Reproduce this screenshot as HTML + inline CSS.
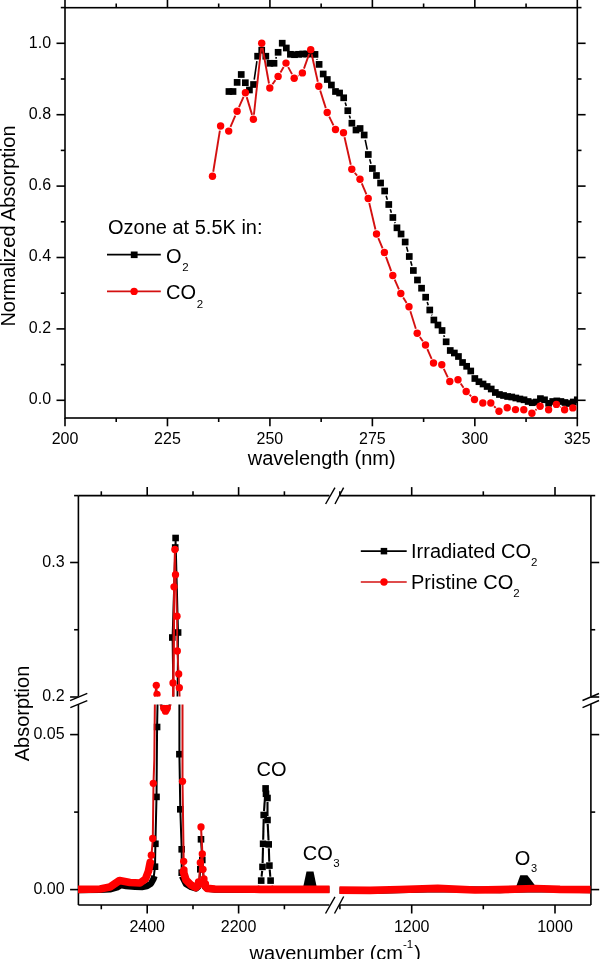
<!DOCTYPE html>
<html><head><meta charset="utf-8"><style>
html,body{margin:0;padding:0;background:#fff;width:600px;height:959px;overflow:hidden}
svg{display:block}
text{font-family:"Liberation Sans",sans-serif;fill:#000}
svg{will-change:transform}
</style></head><body>
<svg width="600" height="959" viewBox="0 0 600 959">
<rect x="65.0" y="7.7" width="512.3" height="410.3" fill="none" stroke="#000" stroke-width="1.6"/>
<line x1="65.0" y1="418.0" x2="65.0" y2="426.3" stroke="#000000" stroke-width="1.6" />
<line x1="65.0" y1="7.7" x2="65.0" y2="-0.6000000000000005" stroke="#000000" stroke-width="1.6" />
<text x="65.0" y="444" font-size="16" text-anchor="middle" >200</text>
<line x1="167.45999999999998" y1="418.0" x2="167.45999999999998" y2="426.3" stroke="#000000" stroke-width="1.6" />
<line x1="167.45999999999998" y1="7.7" x2="167.45999999999998" y2="-0.6000000000000005" stroke="#000000" stroke-width="1.6" />
<text x="167.45999999999998" y="444" font-size="16" text-anchor="middle" >225</text>
<line x1="269.91999999999996" y1="418.0" x2="269.91999999999996" y2="426.3" stroke="#000000" stroke-width="1.6" />
<line x1="269.91999999999996" y1="7.7" x2="269.91999999999996" y2="-0.6000000000000005" stroke="#000000" stroke-width="1.6" />
<text x="269.91999999999996" y="444" font-size="16" text-anchor="middle" >250</text>
<line x1="372.38" y1="418.0" x2="372.38" y2="426.3" stroke="#000000" stroke-width="1.6" />
<line x1="372.38" y1="7.7" x2="372.38" y2="-0.6000000000000005" stroke="#000000" stroke-width="1.6" />
<text x="372.38" y="444" font-size="16" text-anchor="middle" >275</text>
<line x1="474.84" y1="418.0" x2="474.84" y2="426.3" stroke="#000000" stroke-width="1.6" />
<line x1="474.84" y1="7.7" x2="474.84" y2="-0.6000000000000005" stroke="#000000" stroke-width="1.6" />
<text x="474.84" y="444" font-size="16" text-anchor="middle" >300</text>
<line x1="577.3" y1="418.0" x2="577.3" y2="426.3" stroke="#000000" stroke-width="1.6" />
<line x1="577.3" y1="7.7" x2="577.3" y2="-0.6000000000000005" stroke="#000000" stroke-width="1.6" />
<text x="577.3" y="444" font-size="16" text-anchor="middle" >325</text>
<line x1="116.22999999999999" y1="418.0" x2="116.22999999999999" y2="422.0" stroke="#000000" stroke-width="1.6" />
<line x1="116.22999999999999" y1="7.7" x2="116.22999999999999" y2="3.5" stroke="#000000" stroke-width="1.6" />
<line x1="218.69" y1="418.0" x2="218.69" y2="422.0" stroke="#000000" stroke-width="1.6" />
<line x1="218.69" y1="7.7" x2="218.69" y2="3.5" stroke="#000000" stroke-width="1.6" />
<line x1="321.15" y1="418.0" x2="321.15" y2="422.0" stroke="#000000" stroke-width="1.6" />
<line x1="321.15" y1="7.7" x2="321.15" y2="3.5" stroke="#000000" stroke-width="1.6" />
<line x1="423.60999999999996" y1="418.0" x2="423.60999999999996" y2="422.0" stroke="#000000" stroke-width="1.6" />
<line x1="423.60999999999996" y1="7.7" x2="423.60999999999996" y2="3.5" stroke="#000000" stroke-width="1.6" />
<line x1="526.0699999999999" y1="418.0" x2="526.0699999999999" y2="422.0" stroke="#000000" stroke-width="1.6" />
<line x1="526.0699999999999" y1="7.7" x2="526.0699999999999" y2="3.5" stroke="#000000" stroke-width="1.6" />
<line x1="56.5" y1="400.3" x2="65.0" y2="400.3" stroke="#000000" stroke-width="1.6" />
<line x1="577.3" y1="400.3" x2="585.5999999999999" y2="400.3" stroke="#000000" stroke-width="1.6" />
<text x="51.1" y="403.6" font-size="16" text-anchor="end" >0.0</text>
<line x1="56.5" y1="328.9" x2="65.0" y2="328.9" stroke="#000000" stroke-width="1.6" />
<line x1="577.3" y1="328.9" x2="585.5999999999999" y2="328.9" stroke="#000000" stroke-width="1.6" />
<text x="51.1" y="333.2" font-size="16" text-anchor="end" >0.2</text>
<line x1="56.5" y1="257.5" x2="65.0" y2="257.5" stroke="#000000" stroke-width="1.6" />
<line x1="577.3" y1="257.5" x2="585.5999999999999" y2="257.5" stroke="#000000" stroke-width="1.6" />
<text x="51.1" y="260.8" font-size="16" text-anchor="end" >0.4</text>
<line x1="56.5" y1="186.1" x2="65.0" y2="186.1" stroke="#000000" stroke-width="1.6" />
<line x1="577.3" y1="186.1" x2="585.5999999999999" y2="186.1" stroke="#000000" stroke-width="1.6" />
<text x="51.1" y="190.4" font-size="16" text-anchor="end" >0.6</text>
<line x1="56.5" y1="114.69999999999999" x2="65.0" y2="114.69999999999999" stroke="#000000" stroke-width="1.6" />
<line x1="577.3" y1="114.69999999999999" x2="585.5999999999999" y2="114.69999999999999" stroke="#000000" stroke-width="1.6" />
<text x="51.1" y="118.99999999999999" font-size="16" text-anchor="end" >0.8</text>
<line x1="56.5" y1="43.30000000000001" x2="65.0" y2="43.30000000000001" stroke="#000000" stroke-width="1.6" />
<line x1="577.3" y1="43.30000000000001" x2="585.5999999999999" y2="43.30000000000001" stroke="#000000" stroke-width="1.6" />
<text x="51.1" y="47.60000000000001" font-size="16" text-anchor="end" >1.0</text>
<line x1="60.8" y1="364.6" x2="65.0" y2="364.6" stroke="#000000" stroke-width="1.6" />
<line x1="577.3" y1="364.6" x2="581.5" y2="364.6" stroke="#000000" stroke-width="1.6" />
<line x1="60.8" y1="293.2" x2="65.0" y2="293.2" stroke="#000000" stroke-width="1.6" />
<line x1="577.3" y1="293.2" x2="581.5" y2="293.2" stroke="#000000" stroke-width="1.6" />
<line x1="60.8" y1="221.8" x2="65.0" y2="221.8" stroke="#000000" stroke-width="1.6" />
<line x1="577.3" y1="221.8" x2="581.5" y2="221.8" stroke="#000000" stroke-width="1.6" />
<line x1="60.8" y1="150.39999999999998" x2="65.0" y2="150.39999999999998" stroke="#000000" stroke-width="1.6" />
<line x1="577.3" y1="150.39999999999998" x2="581.5" y2="150.39999999999998" stroke="#000000" stroke-width="1.6" />
<line x1="60.8" y1="79.0" x2="65.0" y2="79.0" stroke="#000000" stroke-width="1.6" />
<line x1="577.3" y1="79.0" x2="581.5" y2="79.0" stroke="#000000" stroke-width="1.6" />
<line x1="60.8" y1="7.599999999999966" x2="65.0" y2="7.599999999999966" stroke="#000000" stroke-width="1.6" />
<line x1="577.3" y1="7.599999999999966" x2="581.5" y2="7.599999999999966" stroke="#000000" stroke-width="1.6" />
<text x="321.7" y="464.5" font-size="20" text-anchor="middle" >wavelength (nm)</text>
<text x="0" y="0" font-size="20" text-anchor="middle" transform="translate(14.9,226) rotate(-90)">Normalized Absorption</text>
<defs><clipPath id="ct"><rect x="65" y="7.7" width="512.3" height="410.3"/></clipPath></defs><g clip-path="url(#ct)">
<line x1="254.24" y1="79.55" x2="256.91" y2="61.15" stroke="#000000" stroke-width="1.6"/>
<line x1="275.76" y1="58.61" x2="276.37" y2="56.99" stroke="#000000" stroke-width="1.6"/>
<line x1="316.90" y1="59.03" x2="317.20" y2="59.77" stroke="#000000" stroke-width="1.6"/>
<line x1="345.21" y1="102.57" x2="346.28" y2="105.93" stroke="#000000" stroke-width="1.6"/>
<line x1="349.35" y1="115.45" x2="350.33" y2="118.45" stroke="#000000" stroke-width="1.6"/>
<line x1="365.21" y1="139.89" x2="367.25" y2="149.61" stroke="#000000" stroke-width="1.6"/>
<line x1="369.69" y1="159.30" x2="370.98" y2="163.70" stroke="#000000" stroke-width="1.6"/>
<line x1="386.13" y1="195.78" x2="387.32" y2="199.72" stroke="#000000" stroke-width="1.6"/>
<line x1="390.28" y1="209.27" x2="391.37" y2="212.73" stroke="#000000" stroke-width="1.6"/>
<line x1="394.72" y1="222.15" x2="395.12" y2="223.15" stroke="#000000" stroke-width="1.6"/>
<line x1="406.53" y1="246.81" x2="407.91" y2="251.69" stroke="#000000" stroke-width="1.6"/>
<line x1="410.67" y1="261.30" x2="411.96" y2="265.70" stroke="#000000" stroke-width="1.6"/>
<line x1="427.18" y1="301.96" x2="428.23" y2="305.24" stroke="#000000" stroke-width="1.6"/>
<line x1="431.65" y1="314.63" x2="431.96" y2="315.37" stroke="#000000" stroke-width="1.6"/>
<line x1="443.76" y1="335.20" x2="444.45" y2="337.10" stroke="#000000" stroke-width="1.6"/>
<rect x="225.59" y="88.15" width="6.7" height="6.7" fill="#000"/>
<rect x="229.68" y="88.15" width="6.7" height="6.7" fill="#000"/>
<rect x="233.78" y="79.05" width="6.7" height="6.7" fill="#000"/>
<rect x="237.88" y="71.15" width="6.7" height="6.7" fill="#000"/>
<rect x="241.98" y="79.35" width="6.7" height="6.7" fill="#000"/>
<rect x="246.08" y="86.65" width="6.7" height="6.7" fill="#000"/>
<rect x="250.18" y="81.15" width="6.7" height="6.7" fill="#000"/>
<rect x="254.27" y="52.85" width="6.7" height="6.7" fill="#000"/>
<rect x="258.37" y="46.85" width="6.7" height="6.7" fill="#000"/>
<rect x="262.47" y="52.85" width="6.7" height="6.7" fill="#000"/>
<rect x="266.57" y="59.95" width="6.7" height="6.7" fill="#000"/>
<rect x="270.67" y="59.95" width="6.7" height="6.7" fill="#000"/>
<rect x="274.77" y="48.95" width="6.7" height="6.7" fill="#000"/>
<rect x="278.87" y="39.85" width="6.7" height="6.7" fill="#000"/>
<rect x="282.96" y="44.65" width="6.7" height="6.7" fill="#000"/>
<rect x="287.06" y="50.95" width="6.7" height="6.7" fill="#000"/>
<rect x="291.16" y="51.35" width="6.7" height="6.7" fill="#000"/>
<rect x="295.26" y="50.95" width="6.7" height="6.7" fill="#000"/>
<rect x="299.36" y="50.65" width="6.7" height="6.7" fill="#000"/>
<rect x="303.46" y="50.65" width="6.7" height="6.7" fill="#000"/>
<rect x="307.55" y="50.65" width="6.7" height="6.7" fill="#000"/>
<rect x="311.65" y="51.05" width="6.7" height="6.7" fill="#000"/>
<rect x="315.75" y="61.05" width="6.7" height="6.7" fill="#000"/>
<rect x="319.85" y="70.65" width="6.7" height="6.7" fill="#000"/>
<rect x="323.95" y="76.15" width="6.7" height="6.7" fill="#000"/>
<rect x="328.05" y="81.65" width="6.7" height="6.7" fill="#000"/>
<rect x="332.14" y="88.15" width="6.7" height="6.7" fill="#000"/>
<rect x="336.24" y="89.65" width="6.7" height="6.7" fill="#000"/>
<rect x="340.34" y="94.45" width="6.7" height="6.7" fill="#000"/>
<rect x="344.44" y="107.35" width="6.7" height="6.7" fill="#000"/>
<rect x="348.54" y="119.85" width="6.7" height="6.7" fill="#000"/>
<rect x="352.64" y="126.65" width="6.7" height="6.7" fill="#000"/>
<rect x="356.73" y="125.15" width="6.7" height="6.7" fill="#000"/>
<rect x="360.83" y="131.65" width="6.7" height="6.7" fill="#000"/>
<rect x="364.93" y="151.15" width="6.7" height="6.7" fill="#000"/>
<rect x="369.03" y="165.15" width="6.7" height="6.7" fill="#000"/>
<rect x="373.13" y="172.15" width="6.7" height="6.7" fill="#000"/>
<rect x="377.23" y="179.65" width="6.7" height="6.7" fill="#000"/>
<rect x="381.33" y="187.65" width="6.7" height="6.7" fill="#000"/>
<rect x="385.42" y="201.15" width="6.7" height="6.7" fill="#000"/>
<rect x="389.52" y="214.15" width="6.7" height="6.7" fill="#000"/>
<rect x="393.62" y="224.45" width="6.7" height="6.7" fill="#000"/>
<rect x="397.72" y="230.65" width="6.7" height="6.7" fill="#000"/>
<rect x="401.82" y="238.65" width="6.7" height="6.7" fill="#000"/>
<rect x="405.92" y="253.15" width="6.7" height="6.7" fill="#000"/>
<rect x="410.01" y="267.15" width="6.7" height="6.7" fill="#000"/>
<rect x="414.11" y="276.65" width="6.7" height="6.7" fill="#000"/>
<rect x="418.21" y="284.85" width="6.7" height="6.7" fill="#000"/>
<rect x="422.31" y="293.85" width="6.7" height="6.7" fill="#000"/>
<rect x="426.41" y="306.65" width="6.7" height="6.7" fill="#000"/>
<rect x="430.51" y="316.65" width="6.7" height="6.7" fill="#000"/>
<rect x="434.60" y="321.65" width="6.7" height="6.7" fill="#000"/>
<rect x="438.70" y="327.15" width="6.7" height="6.7" fill="#000"/>
<rect x="442.80" y="338.45" width="6.7" height="6.7" fill="#000"/>
<rect x="446.90" y="347.15" width="6.7" height="6.7" fill="#000"/>
<rect x="451.00" y="349.65" width="6.7" height="6.7" fill="#000"/>
<rect x="455.10" y="353.15" width="6.7" height="6.7" fill="#000"/>
<rect x="459.19" y="359.15" width="6.7" height="6.7" fill="#000"/>
<rect x="463.29" y="362.95" width="6.7" height="6.7" fill="#000"/>
<rect x="467.39" y="367.65" width="6.7" height="6.7" fill="#000"/>
<rect x="471.49" y="375.15" width="6.7" height="6.7" fill="#000"/>
<rect x="475.59" y="378.35" width="6.7" height="6.7" fill="#000"/>
<rect x="479.69" y="380.65" width="6.7" height="6.7" fill="#000"/>
<rect x="483.79" y="383.15" width="6.7" height="6.7" fill="#000"/>
<rect x="487.88" y="385.65" width="6.7" height="6.7" fill="#000"/>
<rect x="491.98" y="389.15" width="6.7" height="6.7" fill="#000"/>
<rect x="496.08" y="391.15" width="6.7" height="6.7" fill="#000"/>
<rect x="500.18" y="392.15" width="6.7" height="6.7" fill="#000"/>
<rect x="504.28" y="393.15" width="6.7" height="6.7" fill="#000"/>
<rect x="508.38" y="393.65" width="6.7" height="6.7" fill="#000"/>
<rect x="512.47" y="394.65" width="6.7" height="6.7" fill="#000"/>
<rect x="516.57" y="395.65" width="6.7" height="6.7" fill="#000"/>
<rect x="520.67" y="396.45" width="6.7" height="6.7" fill="#000"/>
<rect x="524.77" y="398.15" width="6.7" height="6.7" fill="#000"/>
<rect x="528.87" y="399.35" width="6.7" height="6.7" fill="#000"/>
<rect x="532.97" y="398.65" width="6.7" height="6.7" fill="#000"/>
<rect x="537.06" y="395.25" width="6.7" height="6.7" fill="#000"/>
<rect x="541.16" y="396.45" width="6.7" height="6.7" fill="#000"/>
<rect x="545.26" y="399.95" width="6.7" height="6.7" fill="#000"/>
<rect x="549.36" y="398.15" width="6.7" height="6.7" fill="#000"/>
<rect x="553.46" y="397.55" width="6.7" height="6.7" fill="#000"/>
<rect x="557.56" y="398.15" width="6.7" height="6.7" fill="#000"/>
<rect x="561.65" y="399.15" width="6.7" height="6.7" fill="#000"/>
<rect x="565.75" y="400.15" width="6.7" height="6.7" fill="#000"/>
<rect x="569.85" y="398.65" width="6.7" height="6.7" fill="#000"/>
<rect x="573.95" y="396.45" width="6.7" height="6.7" fill="#000"/>
<line x1="213.23" y1="171.76" x2="219.87" y2="130.54" stroke="#d41010" stroke-width="1.9"/>
<line x1="230.50" y1="126.87" x2="235.30" y2="115.53" stroke="#d41010" stroke-width="1.9"/>
<line x1="238.97" y1="107.10" x2="243.53" y2="96.90" stroke="#d41010" stroke-width="1.9"/>
<line x1="246.72" y1="97.11" x2="252.08" y2="114.89" stroke="#d41010" stroke-width="1.9"/>
<line x1="253.90" y1="114.73" x2="261.20" y2="47.77" stroke="#d41010" stroke-width="1.9"/>
<line x1="262.52" y1="47.73" x2="268.98" y2="83.47" stroke="#d41010" stroke-width="1.9"/>
<line x1="272.48" y1="84.26" x2="275.42" y2="80.14" stroke="#d41010" stroke-width="1.9"/>
<line x1="280.45" y1="72.45" x2="283.65" y2="67.05" stroke="#d41010" stroke-width="1.9"/>
<line x1="288.20" y1="67.14" x2="292.00" y2="74.16" stroke="#d41010" stroke-width="1.9"/>
<line x1="298.06" y1="75.70" x2="298.54" y2="75.40" stroke="#d41010" stroke-width="1.9"/>
<line x1="303.95" y1="68.57" x2="309.15" y2="54.03" stroke="#d41010" stroke-width="1.9"/>
<line x1="311.70" y1="54.19" x2="317.80" y2="81.71" stroke="#d41010" stroke-width="1.9"/>
<line x1="320.20" y1="90.58" x2="325.80" y2="108.12" stroke="#d41010" stroke-width="1.9"/>
<line x1="329.22" y1="116.63" x2="333.48" y2="125.37" stroke="#d41010" stroke-width="1.9"/>
<line x1="344.52" y1="137.19" x2="350.78" y2="164.71" stroke="#d41010" stroke-width="1.9"/>
<line x1="354.72" y1="172.76" x2="357.08" y2="175.64" stroke="#d41010" stroke-width="1.9"/>
<line x1="361.80" y1="183.43" x2="366.40" y2="194.27" stroke="#d41010" stroke-width="1.9"/>
<line x1="369.25" y1="202.98" x2="375.45" y2="229.52" stroke="#d41010" stroke-width="1.9"/>
<line x1="378.31" y1="238.23" x2="382.59" y2="248.27" stroke="#d41010" stroke-width="1.9"/>
<line x1="385.98" y1="256.82" x2="391.22" y2="271.18" stroke="#d41010" stroke-width="1.9"/>
<line x1="394.67" y1="279.70" x2="398.93" y2="289.30" stroke="#d41010" stroke-width="1.9"/>
<line x1="403.21" y1="297.42" x2="406.59" y2="302.88" stroke="#d41010" stroke-width="1.9"/>
<line x1="410.36" y1="311.19" x2="415.84" y2="328.81" stroke="#d41010" stroke-width="1.9"/>
<line x1="419.85" y1="336.96" x2="422.85" y2="341.24" stroke="#d41010" stroke-width="1.9"/>
<line x1="427.37" y1="349.20" x2="431.63" y2="358.80" stroke="#d41010" stroke-width="1.9"/>
<line x1="443.79" y1="368.95" x2="447.81" y2="377.35" stroke="#d41010" stroke-width="1.9"/>
<line x1="460.64" y1="383.57" x2="463.56" y2="387.73" stroke="#d41010" stroke-width="1.9"/>
<line x1="469.51" y1="394.69" x2="471.19" y2="396.31" stroke="#d41010" stroke-width="1.9"/>
<line x1="494.05" y1="406.25" x2="495.75" y2="407.95" stroke="#d41010" stroke-width="1.9"/>
<line x1="535.40" y1="410.21" x2="536.60" y2="409.19" stroke="#d41010" stroke-width="1.9"/>
<line x1="560.26" y1="406.90" x2="560.74" y2="407.20" stroke="#d41010" stroke-width="1.9"/>
<circle cx="212.5" cy="176.3" r="3.7" fill="#ff0000"/>
<circle cx="220.6" cy="126" r="3.7" fill="#ff0000"/>
<circle cx="228.7" cy="131.1" r="3.7" fill="#ff0000"/>
<circle cx="237.1" cy="111.3" r="3.7" fill="#ff0000"/>
<circle cx="245.4" cy="92.7" r="3.7" fill="#ff0000"/>
<circle cx="253.4" cy="119.3" r="3.7" fill="#ff0000"/>
<circle cx="261.7" cy="43.2" r="3.7" fill="#ff0000"/>
<circle cx="269.8" cy="88" r="3.7" fill="#ff0000"/>
<circle cx="278.1" cy="76.4" r="3.7" fill="#ff0000"/>
<circle cx="286" cy="63.1" r="3.7" fill="#ff0000"/>
<circle cx="294.2" cy="78.2" r="3.7" fill="#ff0000"/>
<circle cx="302.4" cy="72.9" r="3.7" fill="#ff0000"/>
<circle cx="310.7" cy="49.7" r="3.7" fill="#ff0000"/>
<circle cx="318.8" cy="86.2" r="3.7" fill="#ff0000"/>
<circle cx="327.2" cy="112.5" r="3.7" fill="#ff0000"/>
<circle cx="335.5" cy="129.5" r="3.7" fill="#ff0000"/>
<circle cx="343.5" cy="132.7" r="3.7" fill="#ff0000"/>
<circle cx="351.8" cy="169.2" r="3.7" fill="#ff0000"/>
<circle cx="360" cy="179.2" r="3.7" fill="#ff0000"/>
<circle cx="368.2" cy="198.5" r="3.7" fill="#ff0000"/>
<circle cx="376.5" cy="234" r="3.7" fill="#ff0000"/>
<circle cx="384.4" cy="252.5" r="3.7" fill="#ff0000"/>
<circle cx="392.8" cy="275.5" r="3.7" fill="#ff0000"/>
<circle cx="400.8" cy="293.5" r="3.7" fill="#ff0000"/>
<circle cx="409" cy="306.8" r="3.7" fill="#ff0000"/>
<circle cx="417.2" cy="333.2" r="3.7" fill="#ff0000"/>
<circle cx="425.5" cy="345" r="3.7" fill="#ff0000"/>
<circle cx="433.5" cy="363" r="3.7" fill="#ff0000"/>
<circle cx="441.8" cy="364.8" r="3.7" fill="#ff0000"/>
<circle cx="449.8" cy="381.5" r="3.7" fill="#ff0000"/>
<circle cx="458" cy="379.8" r="3.7" fill="#ff0000"/>
<circle cx="466.2" cy="391.5" r="3.7" fill="#ff0000"/>
<circle cx="474.5" cy="399.5" r="3.7" fill="#ff0000"/>
<circle cx="482.8" cy="403" r="3.7" fill="#ff0000"/>
<circle cx="490.8" cy="403" r="3.7" fill="#ff0000"/>
<circle cx="499" cy="411.2" r="3.7" fill="#ff0000"/>
<circle cx="507.2" cy="407.8" r="3.7" fill="#ff0000"/>
<circle cx="515.5" cy="409.6" r="3.7" fill="#ff0000"/>
<circle cx="523.8" cy="409.7" r="3.7" fill="#ff0000"/>
<circle cx="531.9" cy="413.2" r="3.7" fill="#ff0000"/>
<circle cx="540.1" cy="406.2" r="3.7" fill="#ff0000"/>
<circle cx="548.6" cy="409.7" r="3.7" fill="#ff0000"/>
<circle cx="556.4" cy="404.4" r="3.7" fill="#ff0000"/>
<circle cx="564.6" cy="409.7" r="3.7" fill="#ff0000"/>
<circle cx="572.8" cy="407.9" r="3.7" fill="#ff0000"/>
</g>
<text x="108" y="234.0" font-size="20" text-anchor="start" >Ozone at 5.5K in:</text>
<line x1="107" y1="254.7" x2="160.8" y2="254.7" stroke="#000000" stroke-width="1.7" />
<rect x="130.8" y="251.5" width="6.8" height="6.6" fill="#000"/>
<text x="166" y="262.5" font-size="20" text-anchor="start" >O<tspan font-size="11.5" dx="0.8" dy="8.5">2</tspan></text>
<line x1="107" y1="291.3" x2="160.8" y2="291.3" stroke="#d41010" stroke-width="1.7" />
<circle cx="134.1" cy="291.4" r="3.7" fill="#ff0000"/>
<text x="166" y="299" font-size="20" text-anchor="start" >CO<tspan font-size="11.5" dx="0.8" dy="8.5">2</tspan></text>
<line x1="78.4" y1="495.6" x2="329.5" y2="495.6" stroke="#000000" stroke-width="1.6" />
<line x1="340.0" y1="495.6" x2="590.9" y2="495.6" stroke="#000000" stroke-width="1.6" />
<line x1="78.4" y1="905.0" x2="329.5" y2="905.0" stroke="#000000" stroke-width="1.6" />
<line x1="340.0" y1="905.0" x2="590.9" y2="905.0" stroke="#000000" stroke-width="1.6" />
<line x1="78.4" y1="495.6" x2="78.4" y2="696.5" stroke="#000000" stroke-width="1.6" />
<line x1="78.4" y1="704.2" x2="78.4" y2="905.0" stroke="#000000" stroke-width="1.6" />
<line x1="590.9" y1="495.6" x2="590.9" y2="696.5" stroke="#000000" stroke-width="1.6" />
<line x1="590.9" y1="704.2" x2="590.9" y2="905.0" stroke="#000000" stroke-width="1.6" />
<line x1="70.1" y1="700.6" x2="87.3" y2="693.3" stroke="#000000" stroke-width="1.4" />
<line x1="70.3" y1="707.6" x2="87.3" y2="700.6" stroke="#000000" stroke-width="1.4" />
<line x1="582.5" y1="700.5" x2="599" y2="693.5" stroke="#000000" stroke-width="1.4" />
<line x1="582.5" y1="707.6" x2="599" y2="700.5" stroke="#000000" stroke-width="1.4" />
<line x1="325.5" y1="913.5" x2="335" y2="896.8" stroke="#000000" stroke-width="1.4" />
<line x1="334.5" y1="913.5" x2="343.7" y2="896.5" stroke="#000000" stroke-width="1.4" />
<line x1="325.6" y1="504" x2="335" y2="487.6" stroke="#000000" stroke-width="1.4" />
<line x1="335" y1="504" x2="343.6" y2="487.6" stroke="#000000" stroke-width="1.4" />
<line x1="147.2" y1="905.0" x2="147.2" y2="913.5" stroke="#000000" stroke-width="1.6" />
<line x1="147.2" y1="495.6" x2="147.2" y2="487.1" stroke="#000000" stroke-width="1.6" />
<text x="147.2" y="931.5" font-size="16" text-anchor="middle" >2400</text>
<line x1="238.6" y1="905.0" x2="238.6" y2="913.5" stroke="#000000" stroke-width="1.6" />
<line x1="238.6" y1="495.6" x2="238.6" y2="487.1" stroke="#000000" stroke-width="1.6" />
<text x="238.6" y="931.5" font-size="16" text-anchor="middle" >2200</text>
<line x1="411.7" y1="905.0" x2="411.7" y2="913.5" stroke="#000000" stroke-width="1.6" />
<line x1="411.7" y1="495.6" x2="411.7" y2="487.1" stroke="#000000" stroke-width="1.6" />
<text x="411.7" y="931.5" font-size="16" text-anchor="middle" >1200</text>
<line x1="555.0" y1="905.0" x2="555.0" y2="913.5" stroke="#000000" stroke-width="1.6" />
<line x1="555.0" y1="495.6" x2="555.0" y2="487.1" stroke="#000000" stroke-width="1.6" />
<text x="555.0" y="931.5" font-size="16" text-anchor="middle" >1000</text>
<line x1="101.3" y1="905.0" x2="101.3" y2="909.3" stroke="#000000" stroke-width="1.6" />
<line x1="101.3" y1="495.6" x2="101.3" y2="491.3" stroke="#000000" stroke-width="1.6" />
<line x1="193.0" y1="905.0" x2="193.0" y2="909.3" stroke="#000000" stroke-width="1.6" />
<line x1="193.0" y1="495.6" x2="193.0" y2="491.3" stroke="#000000" stroke-width="1.6" />
<line x1="284.4" y1="905.0" x2="284.4" y2="909.3" stroke="#000000" stroke-width="1.6" />
<line x1="284.4" y1="495.6" x2="284.4" y2="491.3" stroke="#000000" stroke-width="1.6" />
<line x1="339.9" y1="905.0" x2="339.9" y2="909.3" stroke="#000000" stroke-width="1.6" />
<line x1="339.9" y1="495.6" x2="339.9" y2="491.3" stroke="#000000" stroke-width="1.6" />
<line x1="483.3" y1="905.0" x2="483.3" y2="909.3" stroke="#000000" stroke-width="1.6" />
<line x1="483.3" y1="495.6" x2="483.3" y2="491.3" stroke="#000000" stroke-width="1.6" />
<line x1="70.10000000000001" y1="889.6" x2="78.4" y2="889.6" stroke="#000000" stroke-width="1.6" />
<line x1="590.9" y1="889.6" x2="599.1999999999999" y2="889.6" stroke="#000000" stroke-width="1.6" />
<text x="64.6" y="893.5" font-size="16" text-anchor="end" >0.00</text>
<line x1="70.10000000000001" y1="734.6" x2="78.4" y2="734.6" stroke="#000000" stroke-width="1.6" />
<line x1="590.9" y1="734.6" x2="599.1999999999999" y2="734.6" stroke="#000000" stroke-width="1.6" />
<text x="64.6" y="738.5" font-size="16" text-anchor="end" >0.05</text>
<line x1="70.10000000000001" y1="697.0" x2="78.4" y2="697.0" stroke="#000000" stroke-width="1.6" />
<line x1="590.9" y1="697.0" x2="599.1999999999999" y2="697.0" stroke="#000000" stroke-width="1.6" />
<text x="64.6" y="700.9" font-size="16" text-anchor="end" >0.2</text>
<line x1="70.10000000000001" y1="562.5" x2="78.4" y2="562.5" stroke="#000000" stroke-width="1.6" />
<line x1="590.9" y1="562.5" x2="599.1999999999999" y2="562.5" stroke="#000000" stroke-width="1.6" />
<text x="64.6" y="567.4" font-size="16" text-anchor="end" >0.3</text>
<line x1="74.10000000000001" y1="812.1" x2="78.4" y2="812.1" stroke="#000000" stroke-width="1.6" />
<line x1="590.9" y1="812.1" x2="595.1999999999999" y2="812.1" stroke="#000000" stroke-width="1.6" />
<line x1="74.10000000000001" y1="629.75" x2="78.4" y2="629.75" stroke="#000000" stroke-width="1.6" />
<line x1="590.9" y1="629.75" x2="595.1999999999999" y2="629.75" stroke="#000000" stroke-width="1.6" />
<line x1="74.10000000000001" y1="495.6" x2="78.4" y2="495.6" stroke="#000000" stroke-width="1.6" />
<line x1="590.9" y1="495.6" x2="595.1999999999999" y2="495.6" stroke="#000000" stroke-width="1.6" />
<text x="0" y="0" font-size="20" text-anchor="middle" transform="translate(28.6,713.5) rotate(-90)">Absorption</text>
<text x="249.6" y="959.8" font-size="20" text-anchor="start" >wavenumber (cm<tspan font-size="11.5" dy="-11.5">-1</tspan><tspan dx="1" dy="11.5">)</tspan></text>
<line x1="360.8" y1="551.2" x2="406.7" y2="551.2" stroke="#000000" stroke-width="1.7" />
<rect x="380.7" y="547.9" width="6.5" height="6.5" fill="#000"/>
<text x="411" y="558.2" font-size="20" text-anchor="start" >Irradiated CO<tspan font-size="11.5" dy="7.5">2</tspan></text>
<line x1="360.8" y1="582" x2="406.7" y2="582" stroke="#d41010" stroke-width="1.7" />
<circle cx="384" cy="582" r="3.7" fill="#ff0000"/>
<text x="411" y="589.2" font-size="20" text-anchor="start" >Pristine CO<tspan font-size="11.5" dy="7.5">2</tspan></text>
<defs><clipPath id="cl"><rect x="78" y="704.6" width="251.5" height="200.4"/><rect x="339.5" y="704.6" width="251" height="200.4"/></clipPath><clipPath id="cu"><rect x="78" y="495.6" width="251.5" height="200.9"/></clipPath></defs>
<g clip-path="url(#cl)"><polyline points="76.0,890.2 100.0,889.8 110.0,889.3 117.0,887.5 121.0,885.2 126.0,886.0 135.0,886.8 142.0,887.0 147.0,886.2 151.0,883.5 153.5,879.0 154.5,876.0" fill="none" stroke="#000" stroke-width="6.4" stroke-linejoin="round" stroke-linecap="butt"/><polyline points="182.0,876.0 186.0,884.0 191.0,887.0 196.0,888.5 199.0,886.0" fill="none" stroke="#000" stroke-width="6.4" stroke-linejoin="round" stroke-linecap="butt"/><polyline points="204.0,886.0 207.0,888.6 215.0,889.5 255.0,889.8 260.0,888.5" fill="none" stroke="#000" stroke-width="6.4" stroke-linejoin="round" stroke-linecap="butt"/><polyline points="271.0,888.5 275.0,889.5 300.0,889.5 332.0,889.5" fill="none" stroke="#000" stroke-width="6.4" stroke-linejoin="round" stroke-linecap="butt"/><polyline points="337.0,890.5 380.0,890.5 437.0,889.0 500.0,890.0 515.0,889.5 540.0,889.0 593.0,890.0" fill="none" stroke="#000" stroke-width="6.4" stroke-linejoin="round" stroke-linecap="butt"/><polygon points="303.4,886 306.5,871.6 313.5,871.6 316.5,886" fill="#000"/><polygon points="516.3,886 520.3,875.2 527.4,875.2 535.5,886" fill="#000"/><polyline points="153.5,879.0 155.0,866.7 155.4,843.8 156.5,796.9 157.1,727.0 157.6,700.0 160.0,700.0 163.0,709.0 168.0,709.0 171.0,700.0 179.4,700.0 179.4,754.2 180.3,809.3 181.7,849.3 181.7,872.7 183.0,879.0 183.0,879.0 186.0,884.0 191.0,887.0 196.0,888.5 199.0,885.0 200.3,869.3 202.3,860.0 201.0,839.3 202.0,850.0 203.0,870.0 204.0,884.0 207.0,888.6 215.0,889.5 255.0,889.8 259.0,888.0" fill="none" stroke="#000" stroke-width="2.0" stroke-linejoin="round" stroke-linecap="round"/><line x1="261.60" y1="876.72" x2="262.15" y2="870.78" stroke="#000" stroke-width="2.1"/><line x1="262.60" y1="863.00" x2="263.00" y2="847.65" stroke="#000" stroke-width="2.1"/><line x1="263.19" y1="839.85" x2="263.66" y2="818.90" stroke="#000" stroke-width="2.1"/><line x1="264.02" y1="811.11" x2="265.33" y2="792.29" stroke="#000" stroke-width="2.1"/><line x1="267.50" y1="801.90" x2="267.50" y2="816.10" stroke="#000" stroke-width="2.1"/><line x1="267.70" y1="823.89" x2="268.55" y2="840.51" stroke="#000" stroke-width="2.1"/><line x1="268.87" y1="848.30" x2="269.28" y2="861.70" stroke="#000" stroke-width="2.1"/><line x1="269.71" y1="869.49" x2="270.29" y2="876.71" stroke="#000" stroke-width="2.1"/><rect x="151.7" y="863.4" width="6.6" height="6.6" fill="#000"/><rect x="152.1" y="840.5" width="6.6" height="6.6" fill="#000"/><rect x="153.2" y="793.6" width="6.6" height="6.6" fill="#000"/><rect x="153.8" y="723.7" width="6.6" height="6.6" fill="#000"/><rect x="176.1" y="750.9" width="6.6" height="6.6" fill="#000"/><rect x="177.0" y="806.0" width="6.6" height="6.6" fill="#000"/><rect x="178.4" y="846.0" width="6.6" height="6.6" fill="#000"/><rect x="178.4" y="869.4" width="6.6" height="6.6" fill="#000"/><rect x="197.0" y="866.0" width="6.6" height="6.6" fill="#000"/><rect x="199.0" y="856.7" width="6.6" height="6.6" fill="#000"/><rect x="197.7" y="836.0" width="6.6" height="6.6" fill="#000"/><rect x="257.9" y="877.3" width="6.6" height="6.6" fill="#000"/><rect x="259.2" y="863.6" width="6.6" height="6.6" fill="#000"/><rect x="259.8" y="840.5" width="6.6" height="6.6" fill="#000"/><rect x="260.4" y="811.7" width="6.6" height="6.6" fill="#000"/><rect x="262.3" y="785.1" width="6.6" height="6.6" fill="#000"/><rect x="262.7" y="790.5" width="6.6" height="6.6" fill="#000"/><rect x="264.2" y="794.7" width="6.6" height="6.6" fill="#000"/><rect x="264.2" y="816.7" width="6.6" height="6.6" fill="#000"/><rect x="265.4" y="841.1" width="6.6" height="6.6" fill="#000"/><rect x="266.1" y="862.3" width="6.6" height="6.6" fill="#000"/><rect x="267.3" y="877.3" width="6.6" height="6.6" fill="#000"/><rect x="162.7" y="705.7" width="6.6" height="6.6" fill="#000"/><polyline points="150.2,862.5 151.5,855.5 152.8,838.8 153.5,783.2 154.3,760.0 154.9,700.0 159.0,700.0 162.0,709.5 165.5,710.0 169.0,709.5 172.0,700.0 182.5,700.0 182.5,781.3 183.7,861.3 183.5,872.0 183.5,872.0 186.0,880.0 191.0,885.0 196.0,887.5 199.0,883.0 200.3,862.7 202.3,854.0 201.0,826.9 202.0,845.0 203.0,869.3 204.0,883.0 207.0,888.3 215.0,889.0" fill="none" stroke="#d41010" stroke-width="2.0" stroke-linejoin="round" stroke-linecap="round"/><polyline points="76.0,889.5 100.0,889.0 110.0,887.0 119.5,880.5 130.0,882.5 140.0,883.0 145.5,879.0 148.5,871.0 150.2,862.5" fill="none" stroke="#ff0000" stroke-width="7.7" stroke-linejoin="round" stroke-linecap="round"/><polyline points="183.5,872.0 186.0,880.0 191.0,885.0 196.0,887.5 199.0,884.0" fill="none" stroke="#ff0000" stroke-width="7.7" stroke-linejoin="round" stroke-linecap="round"/><polyline points="203.5,884.0 207.0,888.3 215.0,889.0 260.0,889.3 332.0,889.3" fill="none" stroke="#ff0000" stroke-width="7.7" stroke-linejoin="round" stroke-linecap="round"/><polyline points="337.0,890.1 370.0,890.4 400.0,889.5 437.7,888.3 475.0,890.0 500.0,889.6 535.0,888.5 560.0,889.4 593.0,889.6" fill="none" stroke="#ff0000" stroke-width="7.7" stroke-linejoin="round" stroke-linecap="round"/><circle cx="151.3" cy="855.2" r="3.65" fill="#ff0000"/><circle cx="152.7" cy="838.5" r="3.65" fill="#ff0000"/><circle cx="153.3" cy="783.3" r="3.65" fill="#ff0000"/><circle cx="163.8" cy="708.3" r="3.65" fill="#ff0000"/><circle cx="167.2" cy="708.3" r="3.65" fill="#ff0000"/><circle cx="165.5" cy="711.2" r="3.65" fill="#ff0000"/><circle cx="182.5" cy="781.3" r="3.65" fill="#ff0000"/><circle cx="183.7" cy="861.3" r="3.65" fill="#ff0000"/><circle cx="201" cy="826.9" r="3.65" fill="#ff0000"/><circle cx="202.3" cy="854" r="3.65" fill="#ff0000"/><circle cx="200.3" cy="862.7" r="3.65" fill="#ff0000"/><circle cx="203" cy="869.3" r="3.65" fill="#ff0000"/><circle cx="184" cy="870" r="3.65" fill="#ff0000"/><circle cx="198.5" cy="882" r="3.65" fill="#ff0000"/><circle cx="204" cy="879" r="3.65" fill="#ff0000"/><circle cx="205.5" cy="884" r="3.65" fill="#ff0000"/></g>
<g clip-path="url(#cu)"><polyline points="173.4,700.0 172.5,637.8 175.6,538.0 178.1,632.5 177.4,700.0" fill="none" stroke="#000" stroke-width="1.8" stroke-linejoin="round" stroke-linecap="round"/><rect x="172.3" y="534.7" width="6.6" height="6.6" fill="#000"/><rect x="171.9" y="544.2" width="6.6" height="6.6" fill="#000"/><rect x="174.8" y="629.2" width="6.6" height="6.6" fill="#000"/><rect x="169.0" y="634.2" width="6.6" height="6.6" fill="#000"/><polyline points="154.5,700.0 156.3,685.3 157.0,694.3 158.0,700.0" fill="none" stroke="#d41010" stroke-width="1.8" stroke-linejoin="round" stroke-linecap="round"/><polyline points="172.8,700.0 173.0,683.0 174.0,586.8 174.9,549.5 175.5,574.7 177.0,616.0 177.3,651.0 178.7,674.0 179.3,687.7 179.8,700.0" fill="none" stroke="#d41010" stroke-width="1.8" stroke-linejoin="round" stroke-linecap="round"/><polyline points="173.6,700.0 174.3,600.0 174.9,549.5" fill="none" stroke="#d41010" stroke-width="1.8" stroke-linejoin="round" stroke-linecap="round"/><circle cx="174.9" cy="549.5" r="3.65" fill="#ff0000"/><circle cx="175.5" cy="574.7" r="3.65" fill="#ff0000"/><circle cx="174" cy="586.8" r="3.65" fill="#ff0000"/><circle cx="177" cy="616.2" r="3.65" fill="#ff0000"/><circle cx="177.3" cy="651" r="3.65" fill="#ff0000"/><circle cx="178.7" cy="674" r="3.65" fill="#ff0000"/><circle cx="173" cy="683" r="3.65" fill="#ff0000"/><circle cx="179.3" cy="687.7" r="3.65" fill="#ff0000"/><circle cx="156.3" cy="685.3" r="3.65" fill="#ff0000"/><circle cx="157" cy="694.3" r="3.65" fill="#ff0000"/></g>
<text x="256.5" y="775.5" font-size="20" text-anchor="start" >CO</text>
<text x="302.7" y="859.5" font-size="20" text-anchor="start" >CO<tspan font-size="11.5" dx="0.6" dy="7.5">3</tspan></text>
<text x="514.8" y="865" font-size="20" text-anchor="start" >O<tspan font-size="11" dx="0.6" dy="7">3</tspan></text>
</svg>
</body></html>
